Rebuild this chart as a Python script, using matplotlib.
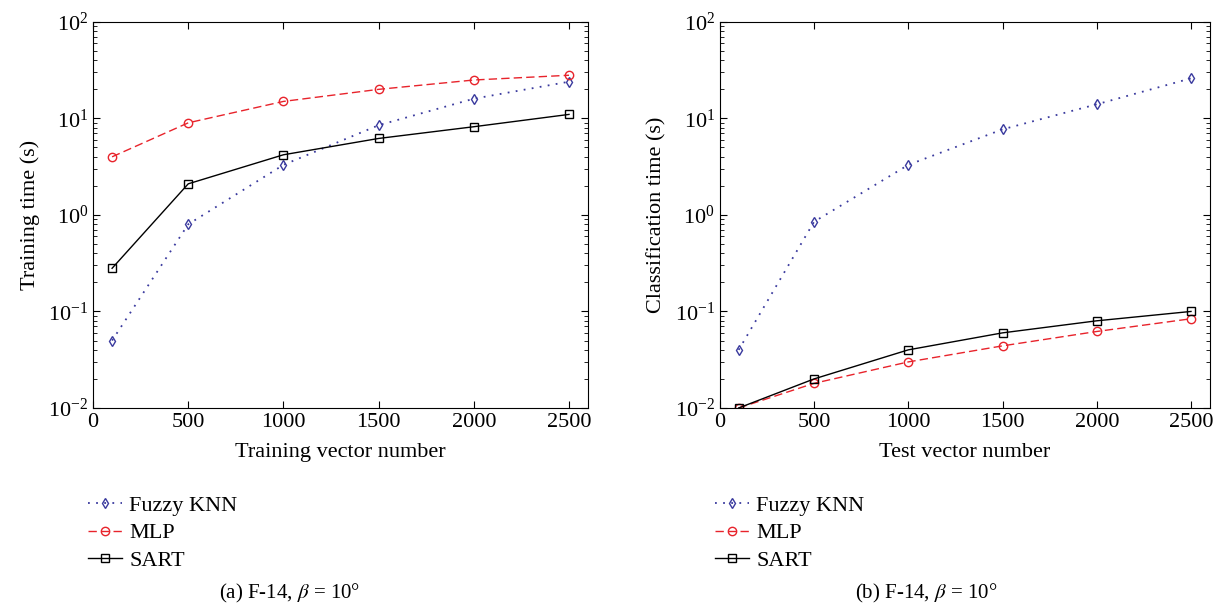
import matplotlib
matplotlib.use("Agg")
import matplotlib.pyplot as plt
from matplotlib.ticker import LogLocator, NullFormatter

plt.rcParams['font.family'] = ['Liberation Serif', 'DejaVu Serif']
plt.rcParams['mathtext.fontset'] = 'stix'

# data
vec_num = [100, 500, 1000, 1500, 2000, 2500]
train_knn = [0.05, 0.8, 3.3, 8.5, 16, 24]
train_mlp = [4, 9, 15, 20, 25, 28]
train_sart = [0.28, 2.1, 4.2, 6.2, 8.2, 11]
class_knn = [0.04, 0.85, 3.3, 7.7, 14, 26]
class_mlp = [0.01, 0.018, 0.03, 0.044, 0.062, 0.084]
class_sart = [0.01, 0.02, 0.04, 0.06, 0.08, 0.1]
series_names = ['Fuzzy KNN', 'MLP', 'SART']
xticks = [0, 500, 1000, 1500, 2000, 2500]

fig = plt.figure(figsize=(12.18, 6.08), dpi=100)
ax1 = fig.add_axes([0.0764, 0.329, 0.4064, 0.635])
ax2 = fig.add_axes([0.591, 0.329, 0.4023, 0.635])

panels = [
    (ax1, train_knn, train_mlp, train_sart, 'Training vector number', 'Training time (s)',
     r'(a) F-14, $\beta$ = 10°', 0.238),
    (ax2, class_knn, class_mlp, class_sart, 'Test vector number', 'Classification time (s)',
     r'(b) F-14, $\beta$ = 10°', 0.76),
]

for ax, knn, mlp, sart, xl, yl, cap, cx in panels:
    l1, = ax.plot(vec_num, knn, linestyle=(0, (1, 3.5)), color='#3a3a9e', marker='d', markersize=5.5,
                  markerfacecolor='none', markeredgewidth=1.0, linewidth=1.3)
    l2, = ax.plot(vec_num, mlp, linestyle=(0, (6, 3)), color='#e8232b', marker='o', markersize=6,
                  markerfacecolor='none', markeredgewidth=1.0, linewidth=1.0)
    l3, = ax.plot(vec_num, sart, linestyle='-', color='black', marker='s', markersize=6,
                  markerfacecolor='none', markeredgewidth=1.0, linewidth=1.0)
    ax.set_yscale('log')
    ax.set_ylim(0.01, 100)
    ax.set_xlim(0, 2600)
    ax.set_xticks(xticks)
    ax.yaxis.set_major_locator(LogLocator(base=10, numticks=10))
    ax.yaxis.set_minor_locator(LogLocator(base=10, subs=range(2, 10), numticks=10))
    ax.yaxis.set_minor_formatter(NullFormatter())
    ax.tick_params(which='both', direction='in', top=True, right=True, labelsize=16)
    ax.tick_params(which='major', length=5)
    ax.tick_params(which='minor', length=3)
    ax.set_xlabel(xl, fontsize=16, labelpad=8)
    ax.set_ylabel(yl, fontsize=16, labelpad=6)
    ax.legend([l1, l2, l3], series_names, loc='upper left', bbox_to_anchor=(-0.05, -0.175),
              frameon=False, fontsize=16, handlelength=1.5, handletextpad=0.35, labelspacing=0.3)
    fig.text(cx, 0.005, cap, ha='center', va='bottom', fontsize=15)

fig.savefig('out.png', dpi=100)
